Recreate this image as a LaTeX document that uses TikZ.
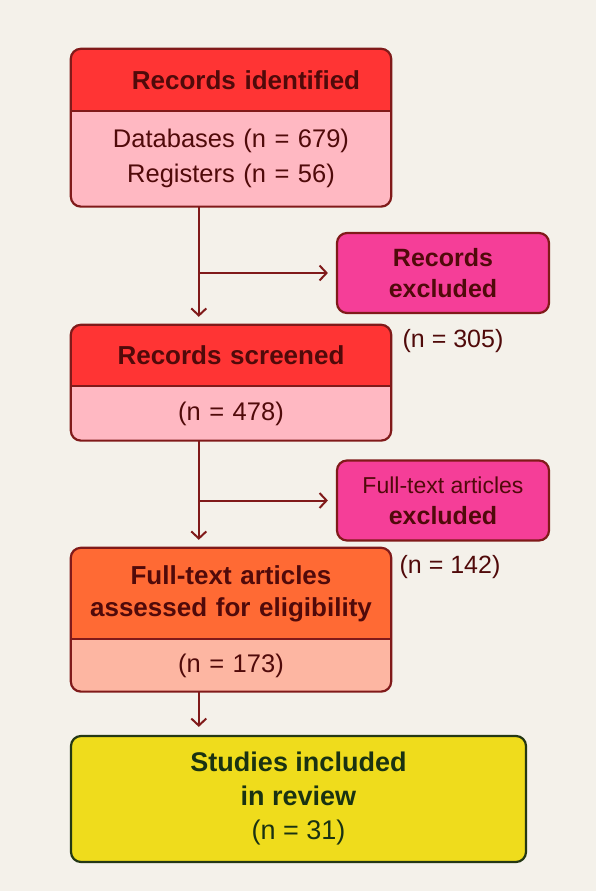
\documentclass[tikz,border=0pt]{standalone}
\usepackage{fontspec}
\setmainfont{Liberation Sans}
\usetikzlibrary{arrows.meta,positioning,backgrounds}
\definecolor{bgBeige}{RGB}{244,241,234}
\definecolor{cbRed}{RGB}{255,52,52}
\definecolor{cbPink}{RGB}{255,184,194}
\definecolor{cbOrange}{RGB}{255,106,52}
\definecolor{cbSalmon}{RGB}{253,182,162}
\definecolor{cbMagenta}{RGB}{245,62,152}
\definecolor{cbYellow}{RGB}{239,220,28}
\definecolor{lineRed}{RGB}{128,26,26}
\definecolor{txtRed}{RGB}{80,10,10}
\definecolor{lineGreen}{RGB}{36,56,20}
\definecolor{txtGreen}{RGB}{26,50,18}
\tikzset{
    >={Straight Barb[length=7pt,width=15pt]},
    frame/.style={draw=lineRed,line width=2.2pt,rounded corners=10pt},
    flow/.style={->,draw=lineRed,line width=2pt,shorten >=8pt},
    headtxt/.style={inner sep=0pt,text width=320pt,minimum height=#1,align=center,text=txtRed,font=\fontsize{26}{32}\selectfont\bfseries},
    bodytxt/.style={inner sep=0pt,text width=320pt,minimum height=#1,align=center,text=txtRed,font=\fontsize{25.5}{35}\selectfont},
    exclbox/.style={frame,fill=cbMagenta,minimum width=212pt,minimum height=80pt,align=center,text=txtRed,font=\fontsize{25}{31}\selectfont\bfseries},
    nlabel/.style={text=txtRed,font=\fontsize{25}{31}\selectfont},
    finalbox/.style={draw=lineGreen,line width=2.2pt,rounded corners=10pt,fill=cbYellow,minimum width=455pt,minimum height=126pt,align=center,text=txtGreen,font=\fontsize{27}{34}\selectfont},
}
\begin{document}
\begin{tikzpicture}[x=1pt,y=-1pt]
    \useasboundingbox (0,0) rectangle (596,891);
    \begin{scope}[on background layer]
        \fill[bgBeige] (0,0) rectangle (596,891);
    \end{scope}

    % main column
    \node[headtxt=62pt] (idHead) at (231,80) {\hspace*{30pt}Records identified};
    \node[bodytxt=95pt,below=0pt of idHead] (idBody) {Databases (n = 679)\\Registers (n = 56)};

    \node[headtxt=61pt] (scrHead) at (231,355.5) {Records screened};
    \node[bodytxt=54pt,below=0pt of scrHead] (scrBody) {(n = 478)};

    \node[headtxt=91pt] (ftHead) at (231,593.5) {Full-text articles\\assessed for eligibility};
    \node[bodytxt=52pt,below=0pt of ftHead] (ftBody) {(n = 173)};

    \node[finalbox] (incl) at (298.5,799) {\textbf{Studies included}\\\textbf{in review}\\(n = 31)};

    % exclusions
    \node[exclbox] (exclA) at (443,273) {Records\\excluded};
    \node[nlabel] (exclAn) at (453,341) {(n = 305)};
    \node[exclbox] (exclB) at (443,500.5) {{\mdseries\fontsize{23}{29}\selectfont Full-text articles}\\excluded};
    \node[nlabel] (exclBn) at (450,567) {(n = 142)};

    \foreach \h/\b/\hc/\bc in {idHead/idBody/cbRed/cbPink,scrHead/scrBody/cbRed/cbPink,ftHead/ftBody/cbOrange/cbSalmon}{
        \begin{scope}[on background layer]
            \fill[\hc,rounded corners=10pt] (\h.north west) rectangle (\h.south east);
            \fill[\hc] ([yshift=15pt]\h.south west) rectangle (\h.south east);
            \fill[\bc,rounded corners=10pt] (\b.north west) rectangle (\b.south east);
            \fill[\bc] (\b.north west) rectangle ([yshift=15pt]\b.south east);
        \end{scope}
        \draw[frame] (\h.north west) rectangle (\b.south east);
        \draw[draw=lineRed,line width=2.2pt] (\h.south west) -- (\h.south east);
    }

    % arrows
    \coordinate (outA) at ([xshift=128pt]idBody.south west);
    \coordinate (outB) at ([xshift=128pt]scrBody.south west);
    \coordinate (outC) at ([xshift=128pt]ftBody.south west);
    \draw[flow] (outA) -- (outA |- scrHead.north);
    \draw[flow] (outA |- exclA.west) -- (exclA.west);
    \draw[flow] (outB) -- (outB |- ftHead.north);
    \draw[flow] (outB |- exclB.west) -- (exclB.west);
    \draw[flow] (outC) -- (outC |- incl.north);
\end{tikzpicture}
\end{document}
